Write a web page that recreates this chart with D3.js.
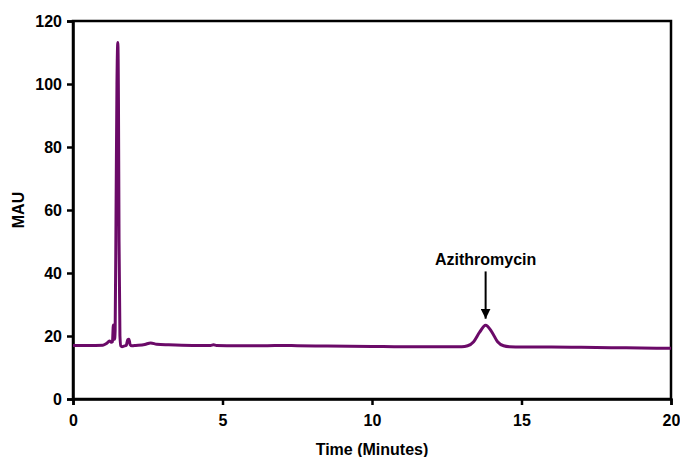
<!DOCTYPE html>
<html>
<head>
<meta charset="utf-8">
<script src="https://cdn.jsdelivr.net/npm/d3@7"></script>
<style>
  body { margin: 0; background: #fff; }
  text { font-family: "Liberation Sans", Arial, sans-serif; font-weight: bold; }
</style>
</head>
<body>
<div id="chart"></div>
<script>
// chromatogram trace
var times = [0, 0.5, 1.0, 1.12, 1.22, 1.28, 1.32, 1.35, 1.37, 1.39, 1.41, 1.44, 1.47, 1.5, 1.52, 1.54, 1.57, 1.6, 1.64, 1.7, 1.78, 1.83, 1.87, 1.91, 1.97, 2.1, 2.4, 2.6, 2.8, 3.2, 4.0, 4.6, 4.7, 4.8, 5.5, 6.5, 7.0, 7.5, 8.5, 10, 11, 12, 12.7, 13.0, 13.2, 13.4, 13.6, 13.8, 14.0, 14.2, 14.4, 14.6, 15, 16, 17, 18, 19, 20];
var mau   = [17.0, 17.0, 17.1, 17.6, 18.4, 18.0, 18.2, 23.5, 20.0, 19.0, 22.0, 60.0, 100.0, 113.2, 95.0, 50.0, 20.0, 16.8, 16.6, 16.8, 17.0, 18.8, 19.0, 17.3, 16.9, 17.0, 17.3, 17.8, 17.4, 17.2, 17.0, 17.0, 17.2, 17.0, 16.9, 16.9, 17.0, 16.9, 16.8, 16.7, 16.6, 16.6, 16.6, 16.6, 16.9, 18.2, 21.2, 23.4, 21.4, 18.2, 16.9, 16.6, 16.5, 16.5, 16.4, 16.3, 16.2, 16.1];
var xTicks = [0, 5, 10, 15, 20];
var yTicks = [0, 20, 40, 60, 80, 100, 120];
var peakLabel = "Azithromycin";
var peakTime = 13.8;

var width = 680, height = 457;
var margin = {left: 73, right: 9, top: 21, bottom: 58};

var svg = d3.select("#chart").append("svg")
    .attr("width", width)
    .attr("height", height);

var x = d3.scaleLinear().domain([0, 20]).range([margin.left, width - margin.right]);
var y = d3.scaleLinear().domain([0, 120]).range([height - margin.bottom, margin.top]);

// frame
svg.append("rect")
    .attr("x", x(0)).attr("y", y(120))
    .attr("width", x(20) - x(0)).attr("height", y(0) - y(120))
    .attr("fill", "none").attr("stroke", "#000").attr("stroke-width", 2.5);

var xAxis = svg.append("g")
    .attr("transform", "translate(0," + y(0) + ")")
    .call(d3.axisBottom(x).tickValues(xTicks).tickSize(6).tickPadding(10).tickFormat(d3.format("d")));
var yAxis = svg.append("g")
    .attr("transform", "translate(" + x(0) + ",0)")
    .call(d3.axisLeft(y).tickValues(yTicks).tickSize(6).tickPadding(5).tickFormat(d3.format("d")));

[xAxis, yAxis].forEach(function(a){
  a.select(".domain").attr("stroke", "#000").attr("stroke-width", 2.5);
  a.selectAll(".tick line").attr("stroke", "#000").attr("stroke-width", 2.5);
  a.selectAll(".tick text").attr("fill", "#000").style("font-size", "16px")
    .style("font-family", "'Liberation Sans', Arial, sans-serif").style("font-weight", "bold");
});

var line = d3.line()
    .x(function(d, i){ return x(times[i]); })
    .y(function(d){ return y(d); })
    .curve(d3.curveMonotoneX);

svg.append("path")
    .datum(mau)
    .attr("d", line)
    .attr("fill", "none")
    .attr("stroke", "#6b0a68")
    .attr("stroke-width", 3)
    .attr("stroke-linejoin", "round");

// annotation
svg.append("defs").append("marker")
    .attr("id", "arrow")
    .attr("viewBox", "0 0 10 10")
    .attr("refX", 10).attr("refY", 5)
    .attr("markerWidth", 5).attr("markerHeight", 5)
    .attr("markerUnits", "strokeWidth")
    .attr("orient", "auto")
  .append("path")
    .attr("d", "M0,0L10,5L0,10z")
    .attr("fill", "#000");

svg.append("line")
    .attr("x1", x(peakTime)).attr("x2", x(peakTime))
    .attr("y1", y(40.5)).attr("y2", y(25.5))
    .attr("stroke", "#000").attr("stroke-width", 2)
    .attr("marker-end", "url(#arrow)");

svg.append("text")
    .attr("x", x(peakTime)).attr("y", y(42.5))
    .attr("text-anchor", "middle")
    .style("font-size", "16px")
    .text(peakLabel);

svg.append("text")
    .attr("x", (x(0) + x(20)) / 2).attr("y", 455)
    .attr("text-anchor", "middle")
    .style("font-size", "16px")
    .text("Time (Minutes)");

svg.append("text")
    .attr("transform", "translate(24," + y(60) + ")rotate(-90)")
    .attr("text-anchor", "middle")
    .style("font-size", "16px")
    .text("MAU");
</script>
</body>
</html>
